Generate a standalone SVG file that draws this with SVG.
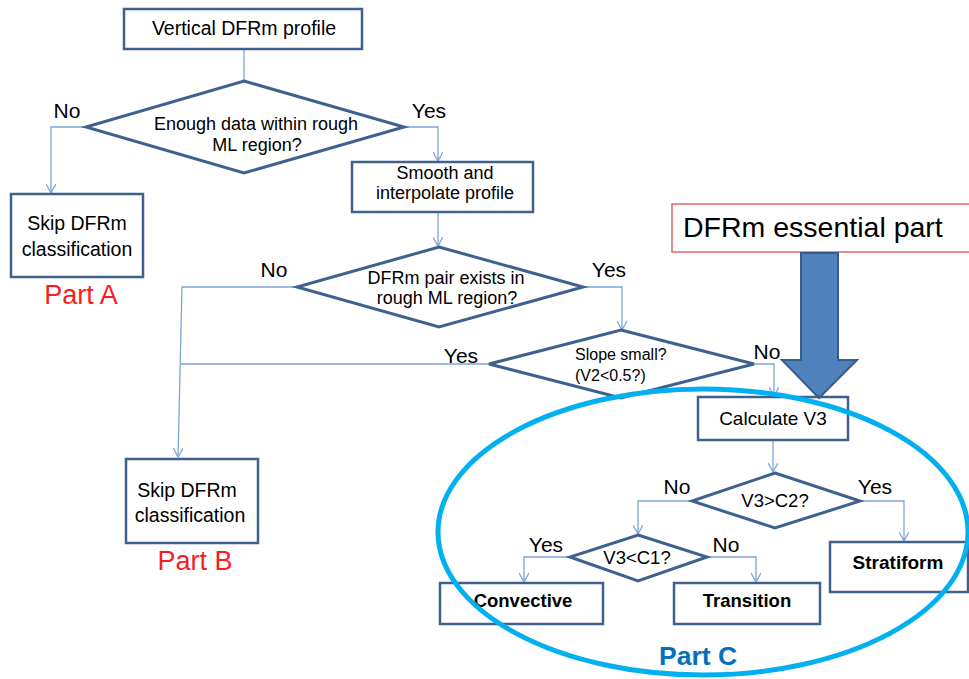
<svg xmlns="http://www.w3.org/2000/svg" width="969" height="679" viewBox="0 0 969 679">
<defs>
<style>
.box{fill:#fff;stroke:#3f6190;stroke-width:2.5}
.dia{fill:#fff;stroke:#3f6190;stroke-width:3}
.t{font-family:"Liberation Sans",Arial,sans-serif;font-size:19.5px;fill:#000;text-anchor:middle}
.t2{font-family:"Liberation Sans",Arial,sans-serif;font-size:18px;fill:#000;text-anchor:middle}
.lbl{font-family:"Liberation Sans",Arial,sans-serif;font-size:21px;fill:#000;text-anchor:middle}
.b{font-family:"Liberation Sans",Arial,sans-serif;font-size:18.5px;font-weight:bold;fill:#000;text-anchor:middle}
.part{font-family:"Liberation Sans",Arial,sans-serif;font-size:27px;fill:#f81e1e;text-anchor:middle}
.con{fill:none;stroke:#7ea4d8;stroke-width:1.3}
</style>
<marker id="ah" viewBox="0 0 10 10" refX="9" refY="5" markerWidth="10" markerHeight="10" markerUnits="userSpaceOnUse" orient="auto">
<path d="M0,0 L9,5 L0,10" fill="none" stroke="#7ea4d8" stroke-width="1.3"/>
</marker>
</defs>
<rect width="969" height="679" fill="#fff"/>

<g id="connectors">
<path class="con" d="M244,49 V81"/>
<path class="con" d="M86,127 H51 V193" marker-end="url(#ah)"/>
<path class="con" d="M404,127 H438 V161" marker-end="url(#ah)"/>
<path class="con" d="M438,212 V246" marker-end="url(#ah)"/>
<path class="con" d="M297,287 H182 L178,457" marker-end="url(#ah)"/>
<path class="con" d="M583,287 H622 V330" marker-end="url(#ah)"/>
<path class="con" d="M489,364 H181"/>
<path class="con" d="M754,364 H774 V396" marker-end="url(#ah)"/>
<path class="con" d="M773,440 V472" marker-end="url(#ah)"/>
<path class="con" d="M692,501 H638 V534" marker-end="url(#ah)"/>
<path class="con" d="M860,501 H904 V541" marker-end="url(#ah)"/>
<path class="con" d="M570,557 H524 V582" marker-end="url(#ah)"/>
<path class="con" d="M707,557 H756 V582" marker-end="url(#ah)"/>
<text class="lbl" x="67" y="118">No</text>
<text class="lbl" x="429" y="118">Yes</text>
<text class="lbl" x="274" y="277">No</text>
<text class="lbl" x="609" y="277">Yes</text>
<text class="lbl" x="461" y="363">Yes</text>
<text class="lbl" x="767" y="359">No</text>
<text class="lbl" x="677" y="494">No</text>
<text class="lbl" x="875" y="494">Yes</text>
<text class="lbl" x="546" y="552">Yes</text>
<text class="lbl" x="726" y="552">No</text>
</g>

<g id="start">
<rect class="box" x="124" y="9" width="238" height="40"/>
<text class="t" x="244" y="35">Vertical DFRm profile</text>
</g>
<g id="enough-data">
<polygon class="dia" points="244,81 404,127 244,173 86,127"/>
<text class="t2" x="256" y="130">Enough data within rough</text>
<text class="t2" x="257" y="151">ML region?</text>
</g>
<g id="skip-a">
<rect class="box" x="11" y="194" width="132" height="83"/>
<text class="t" x="77" y="230">Skip DFRm</text>
<text class="t" x="77" y="256">classification</text>
<text class="part" x="81" y="304">Part A</text>
</g>
<g id="smooth">
<rect class="box" x="352" y="162" width="181" height="50"/>
<text class="t2" x="445" y="179">Smooth and</text>
<text class="t2" x="445" y="199">interpolate profile</text>
</g>
<g id="pair-exists">
<polygon class="dia" points="439,247 583,287 439,327 297,287"/>
<text class="t2" x="446" y="284">DFRm pair exists in</text>
<text class="t2" x="447" y="304">rough ML region?</text>
</g>
<g id="slope">
<polygon class="dia" points="621,330 754,364 621,398 489,364"/>
<text class="t" x="575" y="360" style="font-size:16px;text-anchor:start">Slope small?</text>
<text class="t" x="575" y="381" style="font-size:16px;text-anchor:start">(V2&lt;0.5?)</text>
</g>
<g id="skip-b">
<rect class="box" x="126" y="459" width="132" height="84"/>
<text class="t" x="187" y="497">Skip DFRm</text>
<text class="t" x="190" y="522">classification</text>
<text class="part" x="195" y="570">Part B</text>
</g>
<g id="calc-v3">
<rect class="box" x="698" y="397" width="150" height="43"/>
<text class="t" x="773" y="425" style="font-size:19px">Calculate V3</text>
</g>
<g id="v3-c2">
<polygon class="dia" points="775,473 860,501 775,528 692,501"/>
<text class="t" x="775" y="507" style="font-size:18.5px">V3&gt;C2?</text>
</g>
<g id="v3-c1">
<polygon class="dia" points="638,535 707,557 638,581 570,557"/>
<text class="t" x="637" y="564" style="font-size:18.5px">V3&lt;C1?</text>
</g>
<g id="stratiform">
<rect class="box" x="830" y="542" width="138" height="50"/>
<text class="b" x="898" y="569" style="font-size:19px">Stratiform</text>
</g>
<g id="convective">
<rect class="box" x="440" y="583" width="163" height="41"/>
<text class="b" x="523" y="607">Convective</text>
</g>
<g id="transition">
<rect class="box" x="674" y="583" width="146" height="41"/>
<text class="b" x="747" y="607">Transition</text>
</g>

<g id="part-c">
<ellipse cx="703" cy="532" rx="265" ry="143" fill="none" stroke="#00b0f0" stroke-width="5"/>
<text x="698" y="665" style="font-family:'Liberation Sans',Arial,sans-serif;font-size:26.5px;font-weight:bold;fill:#0070c0;text-anchor:middle">Part C</text>
</g>

<g id="essential">
<rect x="672" y="204" width="300" height="48" fill="#fff" stroke="#e06666" stroke-width="1.5"/>
<text x="683" y="237" style="font-family:'Liberation Sans',Arial,sans-serif;font-size:28.5px;fill:#000">DFRm essential part</text>
<polygon points="801,253 838,253 838,360 857,360 819,398 782,360 801,360" fill="#4f81bd" stroke="#385d8a" stroke-width="2"/>
</g>
</svg>
